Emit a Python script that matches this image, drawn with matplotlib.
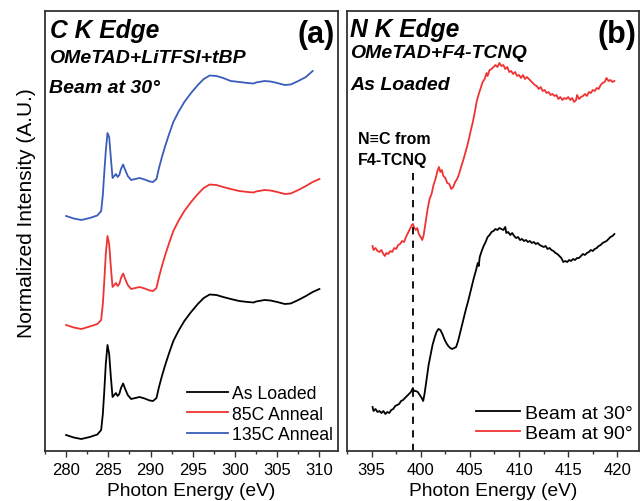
import matplotlib
matplotlib.use('Agg')
import matplotlib.pyplot as plt
from matplotlib.ticker import MultipleLocator

plt.rcParams['font.family'] = ['Liberation Sans', 'DejaVu Sans']

# C K edge, panel (a)
c_energy = [280.0, 280.9, 281.8, 282.8, 283.7, 284.15, 284.35, 284.5, 284.7, 284.9,
            285.1, 285.3, 285.5, 285.7, 285.9, 286.1, 286.3, 286.5, 286.75, 287.0,
            287.3, 287.7, 288.2, 288.7, 289.3, 289.9, 290.3, 290.7, 291.0, 291.35,
            291.7, 292.2, 292.7, 293.3, 294.0, 294.8, 295.6, 296.3, 297.0, 297.8,
            298.6, 299.5, 300.5, 301.5, 302.2, 302.5, 303.5, 304.2, 305.0, 305.9,
            306.6, 307.5, 308.4, 309.2, 310.0]
c_as_loaded = [16, 13.5, 12, 14, 16.5, 21, 37, 57, 87, 106,
               97, 74, 54, 56, 58, 55, 57, 63, 67.5, 62,
               56, 52, 53, 54, 52.5, 50.5, 50, 53, 64, 75,
               85, 98, 110, 120, 130, 139, 147, 153, 156.5, 156,
               154, 152, 150, 149, 148.5, 149.5, 151, 150.5, 149, 147,
               147.5, 151, 155, 159, 162]
c_85c = [126, 123.5, 122, 124.5, 127, 131, 147, 167, 197, 215,
         207, 184, 164, 166, 168, 165, 167, 173, 177.5, 172,
         166, 162, 163, 164, 162.5, 160.5, 160, 163, 174, 185,
         195, 208, 220, 230, 240, 249, 257, 263, 266.5, 266,
         264, 262, 260, 259, 258.5, 259.5, 261, 260.5, 259, 257,
         257.5, 261, 265, 269, 272]
c_135c = [235, 232.5, 231, 233, 235.5, 240, 256, 276, 300, 318,
          314, 293, 273, 275, 277, 274, 276, 282, 286.5, 281,
          275, 271, 272, 273, 271.5, 269.5, 269, 272, 283, 294,
          304, 317, 329, 339, 349, 358, 366, 372, 375.5, 375,
          373, 370, 369, 368, 367.5, 368.5, 370, 369.5, 368, 366,
          366.5, 370, 374, 380]

# N K edge, panel (b)
n_energy_90 = [395.1, 395.2, 395.4, 395.6, 395.8, 396.0, 396.2, 396.35, 396.5, 396.7,
               396.9, 397.1, 397.3, 397.5, 397.7, 397.9, 398.1, 398.3, 398.5, 398.7,
               398.9, 399.1, 399.2, 399.35, 399.5, 399.65, 399.8, 400.0, 400.15, 400.3,
               400.5, 400.7, 400.9, 401.1, 401.3, 401.5, 401.7, 401.85, 402.0, 402.15,
               402.3, 402.5, 402.7, 402.9, 403.1, 403.3, 403.5, 403.7, 403.9, 404.1,
               404.3, 404.5, 404.7, 404.9, 405.1, 405.3, 405.5, 405.7, 405.9, 406.1,
               406.3, 406.5, 406.7, 406.8, 407.0, 407.2, 407.4, 407.6, 407.8, 408.0,
               408.2, 408.4, 408.6, 408.8, 409.0, 409.2, 409.4, 409.6, 409.8, 410.0,
               410.2, 410.4, 410.6, 410.8, 411.0, 411.2, 411.4, 411.6, 411.8, 412.0,
               412.2, 412.4, 412.6, 412.8, 413.0, 413.2, 413.4, 413.6, 413.8, 414.0,
               414.2, 414.4, 414.6, 414.8, 415.0, 415.2, 415.4, 415.6, 415.8, 415.9,
               416.1, 416.3, 416.5, 416.7, 416.9, 417.1, 417.3, 417.5, 417.7, 417.9,
               418.1, 418.3, 418.5, 418.7, 418.9, 419.1, 419.3, 419.5, 419.7]
n_beam_90 = [205, 201, 203, 200, 199, 201, 197, 195, 198, 197,
             200, 199, 203, 202, 206, 207, 210, 209, 214, 218,
             222, 226, 227, 223, 221, 223, 217, 214, 211, 216,
             229, 242, 252, 257, 266, 272, 280, 284, 279, 281,
             275, 273, 268, 267, 262, 264, 269, 272, 277, 284,
             290, 297, 304, 312, 321, 329, 339, 350, 357, 363,
             369, 372, 378, 375, 381, 382, 384, 386, 384, 388,
             385, 386, 382, 384, 379, 380, 377, 379, 375, 376,
             373, 376, 372, 374, 372, 370, 368, 366, 365, 362,
             364, 360, 361, 358, 359, 356, 357, 355, 356, 352,
             354, 351, 353, 352, 354, 351, 353, 349, 351, 356,
             352, 354, 355, 357, 355, 359, 358, 361, 360, 363,
             362, 366, 368, 369, 373, 370, 371, 369, 370]

n_energy_30 = [395.1, 395.2, 395.4, 395.6, 395.8, 396.0, 396.2, 396.4, 396.6, 396.8,
               397.0, 397.2, 397.4, 397.6, 397.8, 398.0, 398.2, 398.4, 398.6, 398.8,
               399.0, 399.2, 399.3, 399.5, 399.7, 399.9, 400.1, 400.25, 400.4, 400.6,
               400.8, 401.0, 401.2, 401.4, 401.6, 401.8, 402.0, 402.2, 402.4, 402.6,
               402.8, 403.0, 403.2, 403.4, 403.6, 403.8, 404.0, 404.2, 404.4, 404.6,
               404.8, 405.0, 405.2, 405.4, 405.6, 405.8, 405.9, 406.0, 406.2, 406.4,
               406.6, 406.8, 407.0, 407.2, 407.4, 407.6, 407.8, 408.0, 408.2, 408.4,
               408.6, 408.7, 408.9, 409.1, 409.3, 409.5, 409.7, 409.9, 410.1, 410.3,
               410.5, 410.7, 410.9, 411.1, 411.3, 411.5, 411.7, 411.9, 412.1, 412.3,
               412.5, 412.7, 412.9, 413.1, 413.3, 413.5, 413.7, 413.9, 414.1, 414.3,
               414.5, 414.7, 414.9, 415.1, 415.3, 415.5, 415.7, 415.9, 416.1, 416.3,
               416.5, 416.7, 416.9, 417.1, 417.3, 417.5, 417.7, 417.9, 418.1, 418.3,
               418.5, 418.7, 418.9, 419.1, 419.3, 419.5, 419.7]
n_beam_30 = [44, 40, 42, 39, 40, 38, 40, 37, 39, 38,
             41, 42, 45, 46, 47, 50, 51, 53, 55, 57,
             59, 63, 60, 60, 59, 56, 53, 50, 58, 72,
             86, 96, 106, 113, 119, 122, 121, 117, 112, 108,
             105, 103, 102, 103, 104, 110, 118, 126, 134, 142,
             149, 157, 165, 173, 180, 188, 185, 194, 200, 205,
             209, 214, 216, 219, 220, 222, 221, 223, 222, 221,
             224, 218, 219, 216, 218, 215, 213, 214, 211, 212,
             210, 211, 209, 210, 208, 209, 207, 208, 206, 205,
             204, 205, 202, 203, 201, 200, 198, 197, 195, 193,
             189, 190, 189, 191, 190, 192, 191, 193, 193, 195,
             197, 196, 198, 199, 201, 200, 202, 203, 205, 206,
             208, 209, 210, 212, 214, 215, 217]

cn_energy = 399.2
cn_top = 284

BLACK = '#000000'
RED = '#f03232'
BLUE = '#3a5dba'


def style_axes(ax, xlim, xticks):
    ax.set_xlim(*xlim)
    ax.set_ylim(0, 440)
    ax.set_xticks(xticks)
    ax.xaxis.set_minor_locator(MultipleLocator(2.5))
    ax.set_yticks([])
    ax.tick_params(axis='x', which='major', direction='out', length=4.5, width=1,
                   labelsize=12, pad=3.5, color='#333333')
    ax.tick_params(axis='x', which='minor', direction='out', length=2.5, width=1,
                   color='#333333')
    for s in ax.spines.values():
        s.set_color('#333333')
        s.set_linewidth(1.3)
    ax.set_xlabel('Photon Energy (eV)', fontsize=13.8, labelpad=3.5)


fig = plt.figure(figsize=(6.41, 5.02), dpi=100)
ax_a = fig.add_axes([45 / 641, 50 / 502, 293 / 641, 440 / 502])
ax_b = fig.add_axes([347 / 641, 50 / 502, 292 / 641, 440 / 502])

# panel (a)
ax_a.plot(c_energy, c_as_loaded, color=BLACK, lw=1.3, label='As Loaded')
ax_a.plot(c_energy, c_85c, color=RED, lw=1.3, label='85C Anneal')
ax_a.plot(c_energy[:len(c_135c)], c_135c, color=BLUE, lw=1.3, label='135C Anneal')
style_axes(ax_a, (277.5, 312.2), [280, 285, 290, 295, 300, 305, 310])
ax_a.set_ylabel('Normalized Intensity (A.U.)', fontsize=15)
ax_a.yaxis.set_label_coords(-0.031, 0.543)

ax_a.text(0.017, 0.941, 'C K Edge', transform=ax_a.transAxes, fontsize=17.7,
          fontweight='bold', style='italic', va='baseline')
ax_a.text(0.014, 0.884, 'OMeTAD+LiTFSI+tBP', transform=ax_a.transAxes, fontsize=14,
          fontweight='bold', style='italic', va='baseline')
ax_a.text(0.014, 0.816, 'Beam at 30°', transform=ax_a.transAxes, fontsize=14,
          fontweight='bold', style='italic', va='baseline')
ax_a.text(0.99, 0.93, '(a)', transform=ax_a.transAxes, fontsize=22,
          fontweight='bold', ha='right', va='baseline')
ax_a.legend(loc='lower right', bbox_to_anchor=(0.983, 0.018), frameon=False,
            fontsize=12.7, handlelength=2.3, handletextpad=0.25, labelspacing=0.2,
            borderpad=0, borderaxespad=0)

# panel (b)
ax_b.plot(n_energy_30, n_beam_30, color=BLACK, lw=1.3, label='Beam at 30°')
ax_b.plot(n_energy_90, n_beam_90, color=RED, lw=1.3, label='Beam at 90°')
ax_b.vlines(cn_energy, 0, cn_top, colors=BLACK, lw=1.3, linestyles=(0, (4, 3.5)))
style_axes(ax_b, (392.5, 422.2), [395, 400, 405, 410, 415, 420])

ax_b.text(0.010, 0.944, 'N K Edge', transform=ax_b.transAxes, fontsize=17.7,
          fontweight='bold', style='italic', va='baseline')
ax_b.text(0.010, 0.895, 'OMeTAD+F4-TCNQ', transform=ax_b.transAxes, fontsize=14,
          fontweight='bold', style='italic', va='baseline')
ax_b.text(0.010, 0.823, 'As Loaded', transform=ax_b.transAxes, fontsize=14,
          fontweight='bold', style='italic', va='baseline')
ax_b.text(0.99, 0.93, '(b)', transform=ax_b.transAxes, fontsize=22,
          fontweight='bold', ha='right', va='baseline')
ax_b.text(0.038, 0.70, 'N≡C from', transform=ax_b.transAxes, fontsize=11.5,
          fontweight='bold', va='baseline')
ax_b.text(0.038, 0.652, 'F4-TCNQ', transform=ax_b.transAxes, fontsize=11.5,
          fontweight='bold', va='baseline')
ax_b.legend(loc='lower right', bbox_to_anchor=(0.979, 0.02), frameon=False,
            fontsize=14, handlelength=2.3, handletextpad=0.25, labelspacing=0.12,
            borderpad=0, borderaxespad=0)

fig.savefig('out.png', dpi=100)
